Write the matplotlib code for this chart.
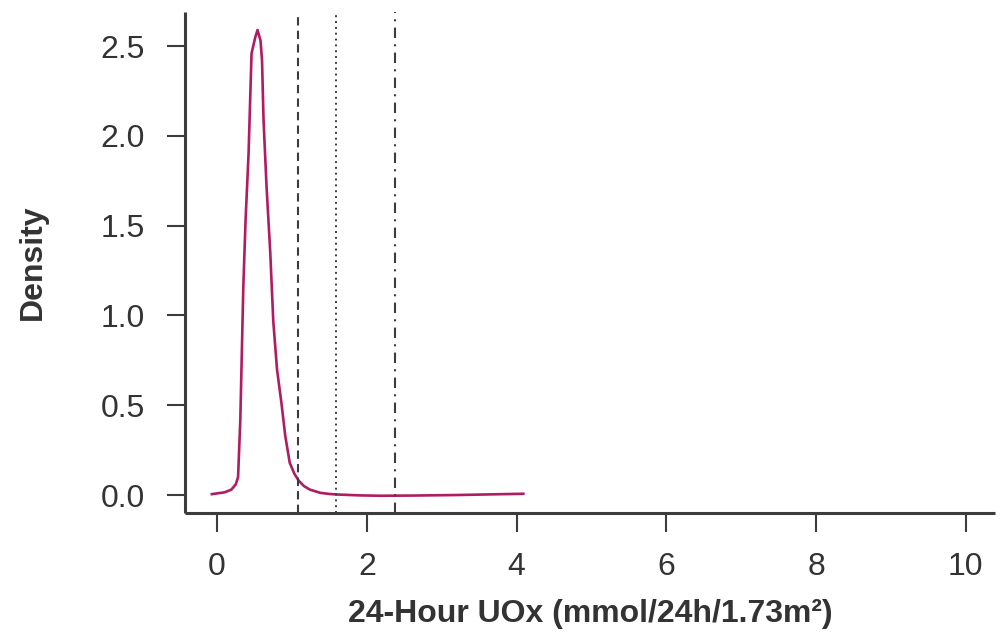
import numpy as np
import matplotlib.pyplot as plt

plt.rcParams['font.family'] = ['Liberation Sans', 'DejaVu Sans']

# density estimate
uox = [-0.07, 0.10, 0.19, 0.25, 0.28, 0.31, 0.33, 0.35, 0.38, 0.42, 0.44, 0.46, 0.51,
       0.54, 0.58, 0.60, 0.62, 0.66, 0.71, 0.75, 0.80, 0.86, 0.91, 0.97, 1.03, 1.09,
       1.16, 1.24, 1.38, 1.50, 1.60, 1.90, 2.18, 2.60, 3.20, 3.70, 4.09]
dens = [0.005, 0.015, 0.03, 0.06, 0.10, 0.42, 0.79, 1.16, 1.53, 1.90, 2.18, 2.46, 2.55,
        2.59, 2.53, 2.42, 2.09, 1.72, 1.35, 0.97, 0.70, 0.51, 0.33, 0.18, 0.12, 0.08,
        0.05, 0.03, 0.012, 0.006, 0.003, -0.002, -0.004, -0.003, 0.0, 0.004, 0.007]

# reference lines
cut_dashed = 1.08
cut_dotted = 1.59
cut_dashdot = 2.38

x_ticks = [0, 2, 4, 6, 8, 10]
y_ticks = [0.0, 0.5, 1.0, 1.5, 2.0, 2.5]

grey = '#3c3c3c'
txt = '#333333'

fig = plt.figure(figsize=(10.05, 6.33), dpi=100)
ax = fig.add_axes([0.184, 0.1896, 0.806, 0.7914])

ax.plot(uox, dens, color='#b01c62', lw=1.9, solid_joinstyle='round')
ax.axvline(cut_dashed, color=grey, lw=1.5, ls=(0, (4, 2.5)))
ax.axvline(cut_dotted, color=grey, lw=1.4, ls=(0, (1, 2)))
ax.axvline(cut_dashdot, color=grey, lw=1.5, ls=(0, (5, 3, 1, 3)))

ax.set_xlim(-0.43, 10.39)
ax.set_ylim(-0.10, 2.69)
ax.set_xticks(x_ticks)
ax.set_xticklabels([str(t) for t in x_ticks])
ax.set_yticks(y_ticks)
ax.set_yticklabels([f'{t:.1f}' for t in y_ticks])

for s in ['top', 'right']:
    ax.spines[s].set_visible(False)
for s in ['left', 'bottom']:
    ax.spines[s].set_color(grey)
    ax.spines[s].set_linewidth(2.2)
    ax.spines[s].set_capstyle('butt')

ax.tick_params(axis='x', length=14, width=1.5, color=grey, labelsize=23,
               labelcolor=txt, pad=14)
ax.tick_params(axis='y', length=13, width=1.5, color=grey, labelsize=23,
               labelcolor=txt, pad=16)

ax.set_xlabel('24-Hour UOx (mmol/24h/1.73m²)', fontsize=23, fontweight='bold',
              color=txt, labelpad=12)
ax.set_ylabel('Density', fontsize=23, fontweight='bold', color=txt, labelpad=38)

fig.savefig('out.png', dpi=100)
